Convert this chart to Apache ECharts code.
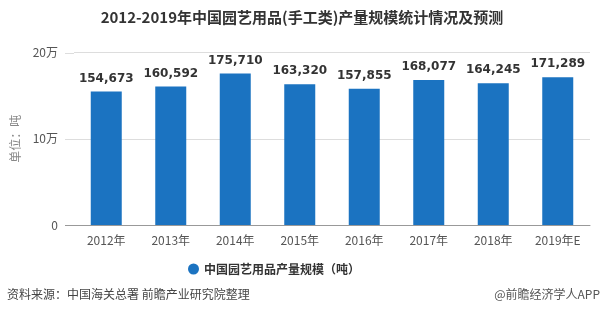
<!DOCTYPE html>
<html>
<head>
<meta charset="utf-8">
<script src="https://cdn.jsdelivr.net/npm/echarts@6/dist/echarts.min.js"></script>
<style>
  html, body { margin: 0; padding: 0; background: #fff; }
  #chart { width: 604px; height: 324px; }
</style>
</head>
<body>
<div id="chart"></div>
<script>
// 2012-2019 garden supplies (handicraft) output, tonnes
const years = ['2012年', '2013年', '2014年', '2015年', '2016年', '2017年', '2018年', '2019年E'];
const output = [154673, 160592, 175710, 163320, 157855, 168077, 164245, 171289];
const yTicks = { 0: '0', 100000: '10万', 200000: '20万' };
const seriesName = '中国园艺用品产量规模（吨）';

const font = '"Noto Sans CJK SC", "Liberation Sans", sans-serif';
const chart = echarts.init(document.getElementById('chart'));

chart.setOption({
  backgroundColor: '#fff',
  animation: false,
  title: {
    text: '2012-2019年中国园艺用品(手工类)产量规模统计情况及预测',
    left: 'center',
    top: 5,
    textStyle: { fontSize: 15, fontWeight: 'bold', color: '#333', fontFamily: font }
  },
  grid: { left: 74, right: 14, top: 52.5, bottom: 99 },
  legend: {
    data: [seriesName],
    bottom: 44,
    left: 183,
    icon: 'circle',
    itemWidth: 11,
    itemHeight: 11,
    itemGap: 6,
    textStyle: { fontSize: 12, fontWeight: 'bold', color: '#333', fontFamily: font }
  },
  xAxis: {
    type: 'category',
    data: years,
    axisLine: { lineStyle: { color: '#999' } },
    axisTick: { alignWithLabel: true, lineStyle: { color: '#999' } },
    axisLabel: { color: '#555', fontSize: 12, margin: 9, fontFamily: font }
  },
  yAxis: {
    type: 'value',
    min: 0,
    max: 200000,
    interval: 100000,
    name: '单位：吨',
    nameLocation: 'middle',
    nameGap: 48,
    nameRotate: 90,
    nameTextStyle: { color: '#888', fontSize: 12, fontFamily: font },
    axisLine: { show: false },
    axisTick: { show: false },
    axisLabel: {
      color: '#555', fontSize: 12, margin: 16, fontFamily: font,
      formatter: v => yTicks[v] !== undefined ? yTicks[v] : ''
    },
    splitLine: { lineStyle: { color: '#ddd' } }
  },
  series: [{
    name: seriesName,
    type: 'bar',
    data: output,
    barWidth: 31,
    itemStyle: { color: '#1B73C1' },
    label: {
      show: true,
      position: 'top',
      distance: 7,
      color: '#333',
      fontSize: 12,
      fontWeight: 'bold',
      fontFamily: '"DejaVu Sans", sans-serif',
      formatter: p => p.value.toLocaleString('en-US')
    }
  }],
  graphic: [
    {
      id: 'source', type: 'text', left: 7, top: 288,
      style: { text: '资料来源：中国海关总署 前瞻产业研究院整理', fill: '#444', fontSize: 12, fontFamily: font }
    },
    {
      id: 'credit', type: 'text', right: 4, top: 288,
      style: { text: '@前瞻经济学人APP', fill: '#555', fontSize: 12, fontFamily: font }
    }
  ]
});

// extend the horizontal rules a little to the left of the plot area
const rules = [0, 100000, 200000].map((v, i) => {
  const y = Math.round(chart.convertToPixel({ yAxisIndex: 0 }, v)) + 0.5;
  return {
    id: 'rule' + i,
    type: 'line',
    shape: { x1: 65, y1: y, x2: 74, y2: y },
    style: { stroke: v === 0 ? '#999' : '#ddd', lineWidth: 1 }
  };
});
chart.setOption({ graphic: rules });
</script>
</body>
</html>
